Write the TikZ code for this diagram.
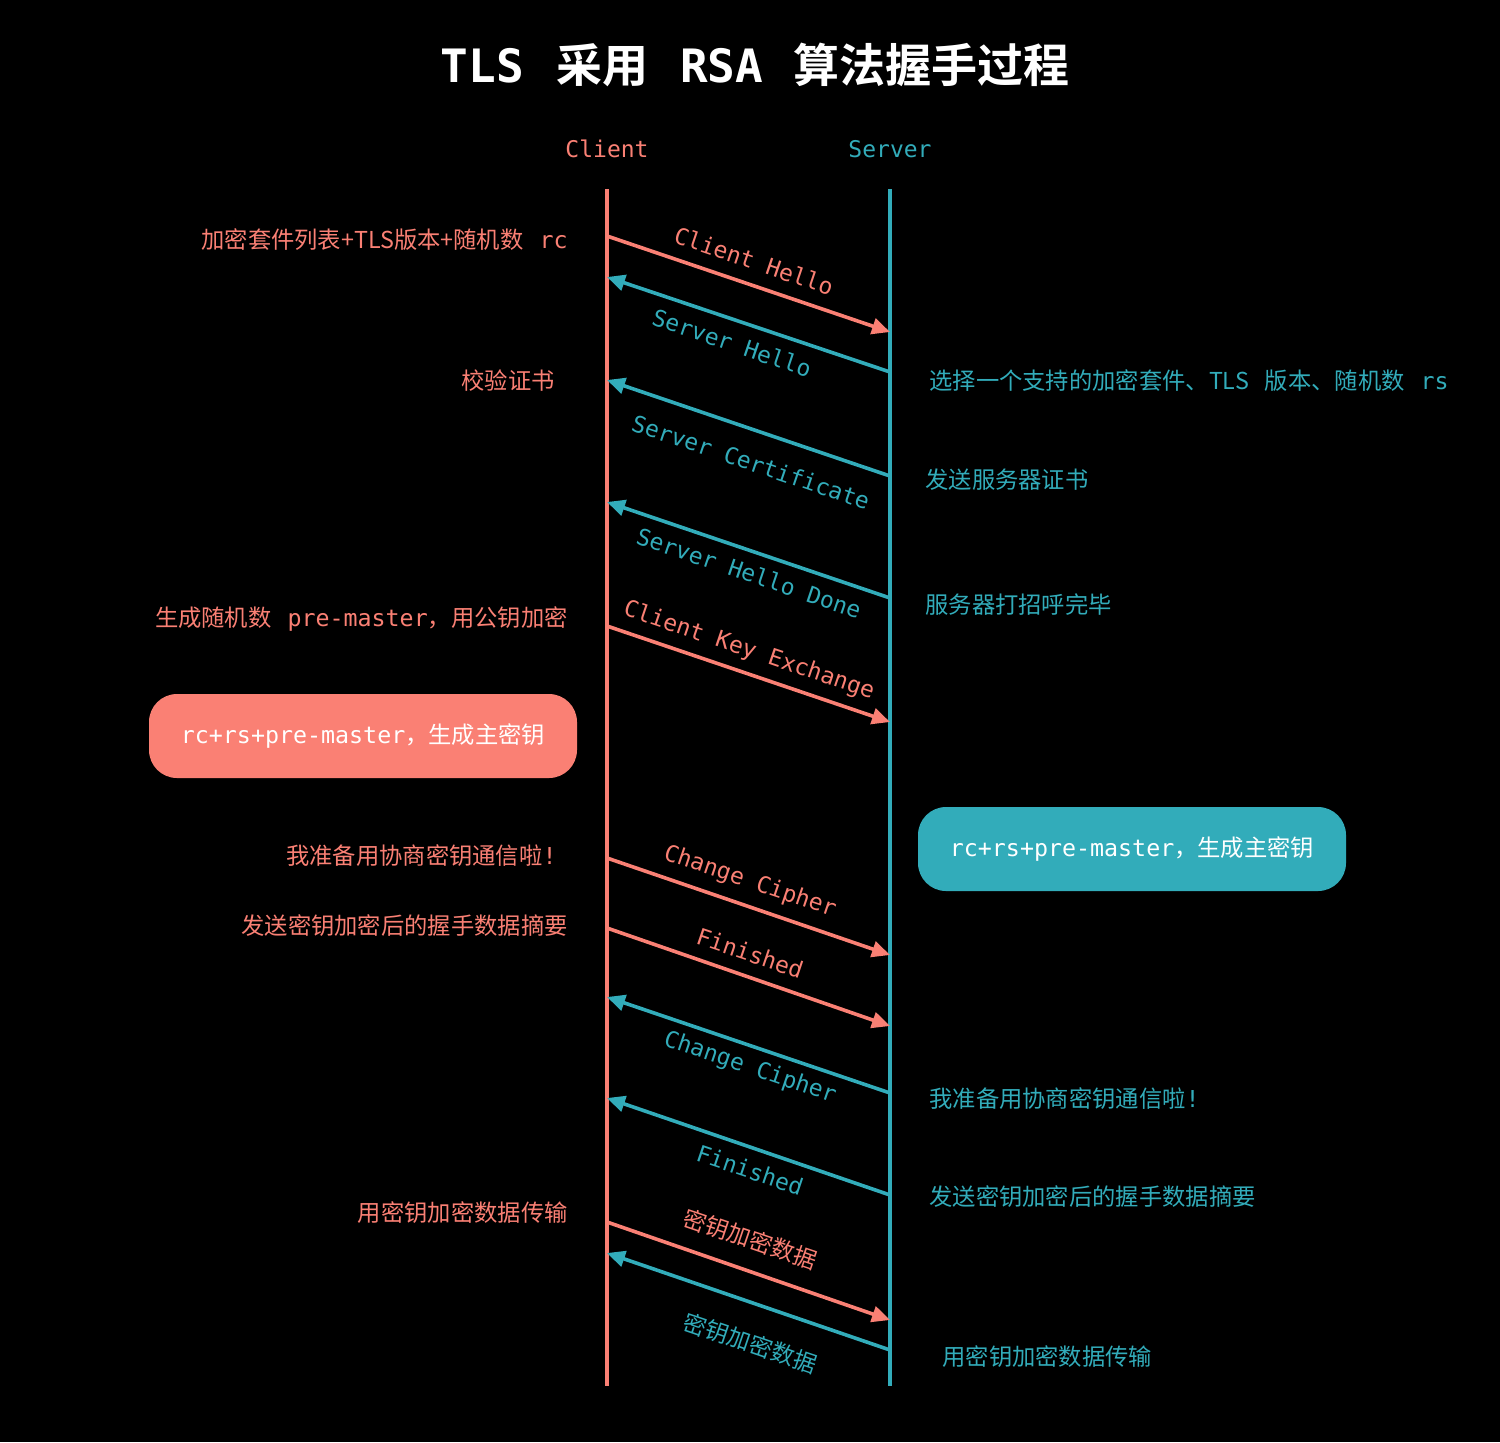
\documentclass[tikz,border=0pt]{standalone}
\usepackage{fontspec}
\setmonofont{DejaVu Sans Mono}
\newfontfamily\cjk{Noto Sans CJK SC}
\newfontfamily\cjkb{Noto Sans CJK SC Bold}
\newfontfamily\monob{DejaVu Sans Mono Bold}
\usetikzlibrary{arrows.meta}
\definecolor{salmon}{RGB}{250,128,116}
\definecolor{teal}{RGB}{50,172,186}
\newcommand{\mt}[1]{{\ttfamily #1}}
\newcommand{\gap}{\hspace{8pt}}
\tikzset{
  lifeline/.style={line width=2pt},
  msg/.style={line width=1.8pt,-{Triangle[length=9pt,width=8pt]}},
  cmsg/.style={msg,draw=salmon},
  smsg/.style={msg,draw=teal,fill=teal},
  mlab/.style={font=\ttfamily\fontsize{11.5}{13}\selectfont,rotate=-18.7,inner sep=0pt},
  clab/.style={font=\cjk\fontsize{11.6}{13}\selectfont,rotate=-18.7,inner sep=0pt},
  leftlab/.style={font=\cjk\fontsize{11.65}{13}\selectfont,text=salmon,anchor=east,inner sep=0pt},
  rightlab/.style={font=\cjk\fontsize{11.65}{13}\selectfont,text=teal,anchor=west,inner sep=0pt},
  keybox/.style={rounded corners=14pt,minimum width=214pt,minimum height=42pt,text=white,font=\cjk\fontsize{11.65}{13}\selectfont,inner sep=0pt},
}
\begin{document}
\begin{tikzpicture}[x=0.5pt,y=-0.5pt]
\fill[black] (0,0) rectangle (1500,1442);
\useasboundingbox (0,0) rectangle (1500,1442);

% title
\node[text=white,inner sep=0pt] (title) at (755,65) {\fontsize{23}{26}\selectfont\monob TLS\hspace{16pt}\cjkb 采用\hspace{16pt}\monob RSA\hspace{15pt}\cjkb 算法握手过程};

% headers
\node[text=salmon,font=\ttfamily\fontsize{11.5}{13}\selectfont,inner sep=0pt] (client) at (607,149) {Client};
\node[text=teal,font=\ttfamily\fontsize{11.5}{13}\selectfont,inner sep=0pt] (server) at (890,149) {Server};

% lifelines
\coordinate (ctop) at (607,189); \coordinate (cbot) at (607,1386);
\coordinate (stop) at (890,189); \coordinate (sbot) at (890,1386);
\draw[lifeline,salmon] (ctop) -- (cbot);
\draw[lifeline,teal] (stop) -- (sbot);

% message end points
\coordinate (c1) at (607,236);  \coordinate (s1) at (890,332);
\coordinate (s2) at (890,372);  \coordinate (c2) at (607,277);
\coordinate (s3) at (890,476);  \coordinate (c3) at (607,380);
\coordinate (s4) at (890,598);  \coordinate (c4) at (607,502);
\coordinate (c5) at (607,626);  \coordinate (s5) at (890,722);
\coordinate (c6) at (607,858);  \coordinate (s6) at (890,955);
\coordinate (c7) at (607,928);  \coordinate (s7) at (890,1026);
\coordinate (s8) at (890,1093); \coordinate (c8) at (607,997);
\coordinate (s9) at (890,1195); \coordinate (c9) at (607,1098);
\coordinate (c10) at (607,1222); \coordinate (s10) at (890,1320);
\coordinate (s11) at (890,1350); \coordinate (c11) at (607,1253);

\draw[cmsg,fill=salmon] (c1) -- (s1);
\draw[smsg] (s2) -- (c2);
\draw[smsg] (s3) -- (c3);
\draw[smsg] (s4) -- (c4);
\draw[cmsg,fill=salmon] (c5) -- (s5);
\draw[cmsg,fill=salmon] (c6) -- (s6);
\draw[cmsg,fill=salmon] (c7) -- (s7);
\draw[smsg] (s8) -- (c8);
\draw[smsg] (s9) -- (c9);
\draw[cmsg,fill=salmon] (c10) -- (s10);
\draw[smsg] (s11) -- (c11);

% message labels
\node[mlab,text=salmon] (m1) at (754,261) {Client Hello};
\node[mlab,text=teal] (m2) at (732,343) {Server Hello};
\node[mlab,text=teal] (m3) at (751,462) {Server Certificate};
\node[mlab,text=teal] (m4) at (749,573) {Server Hello Done};
\node[mlab,text=salmon] (m5) at (749,651) {Client Key Exchange};
\node[mlab,text=salmon] (m6) at (750,882) {Change Cipher};
\node[mlab,text=salmon] (m7) at (750,953) {Finished};
\node[mlab,text=teal] (m8) at (750,1068) {Change Cipher};
\node[mlab,text=teal] (m9) at (750,1170) {Finished};
\node[clab,text=salmon] (m10) at (750,1239) {密钥加密数据};
\node[clab,text=teal] (m11) at (750,1343) {密钥加密数据};

% left notes
\node[leftlab] (l1) at (568,240) {加密套件列表+TLS版本+随机数\gap\mt{rc}};
\node[leftlab] (l2) at (555,381) {校验证书};
\node[leftlab] (l3) at (568,619) {生成随机数\gap\mt{pre-master}，用公钥加密};
\node[keybox,fill=salmon] (kb1) at (363,736) {\mt{rc+rs+pre-master}，生成主密钥};
\node[leftlab] (l4) at (557,856) {我准备用协商密钥通信啦\mt{!}};
\node[leftlab] (l5) at (568,926) {发送密钥加密后的握手数据摘要};
\node[leftlab] (l6) at (568,1213) {用密钥加密数据传输};

% right notes
\node[rightlab] (r1) at (929,381) {选择一个支持的加密套件、TLS\gap 版本、随机数\gap\mt{rs}};
\node[rightlab] (r2) at (925,480) {发送服务器证书};
\node[rightlab] (r3) at (925,605) {服务器打招呼完毕};
\node[keybox,fill=teal] (kb2) at (1132,849) {\raisebox{-2pt}{\mt{rc+rs+pre-master}，生成主密钥}};
\node[rightlab] (r4) at (929,1099) {我准备用协商密钥通信啦\mt{!}};
\node[rightlab] (r5) at (929,1197) {发送密钥加密后的握手数据摘要};
\node[rightlab] (r6) at (942,1357) {用密钥加密数据传输};
\end{tikzpicture}
\end{document}
